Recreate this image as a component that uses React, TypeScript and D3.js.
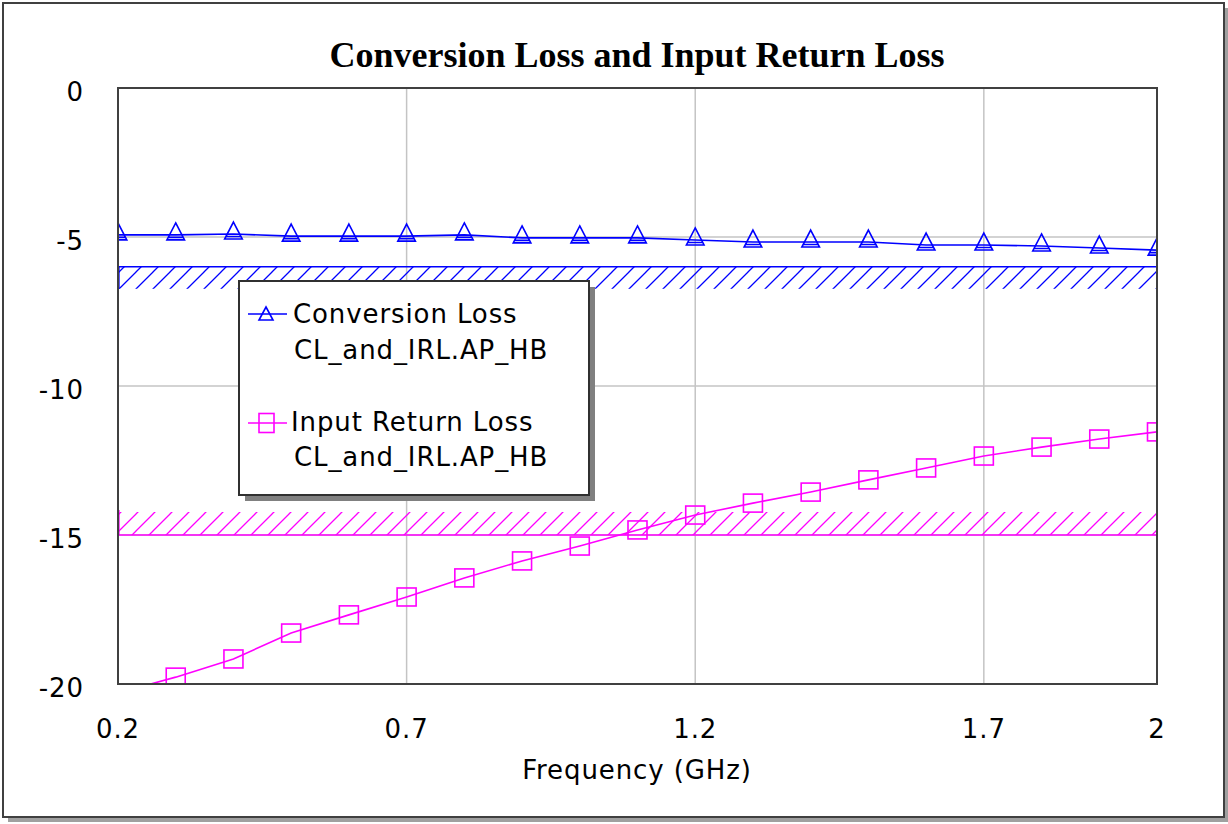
import React from "react";
import * as d3 from "d3";

const freqs = [0.2, 0.3, 0.4, 0.5, 0.6, 0.7, 0.8, 0.9, 1.0, 1.1, 1.2, 1.3, 1.4, 1.5, 1.6, 1.7, 1.8, 1.9, 2.0];
const conversionLoss = [-4.93, -4.93, -4.9, -4.97, -4.97, -4.97, -4.93, -5.03, -5.03, -5.03, -5.1, -5.17, -5.17, -5.17, -5.27, -5.27, -5.3, -5.37, -5.44];
const inputReturnLoss = [-20.3, -19.77, -19.16, -18.29, -17.68, -17.08, -16.44, -15.87, -15.37, -14.83, -14.33, -13.93, -13.56, -13.15, -12.75, -12.35, -12.05, -11.78, -11.54];
const xTicks = [0.2, 0.7, 1.2, 1.7, 2];
const xTickLabels = ["0.2", "0.7", "1.2", "1.7", "2"];
const yTicks = [0, -5, -10, -15, -20];
const yTickLabels = ["0", "-5", "-10", "-15", "-20"];
const specCL = -6;
const specIRL = -15;
const title = "Conversion Loss and Input Return Loss";
const xLabel = "Frequency (GHz)";
const legendItems = [
  { name: "Conversion Loss", source: "CL_and_IRL.AP_HB" },
  { name: "Input Return Loss", source: "CL_and_IRL.AP_HB" },
];

const BLUE = "#0000ff";
const MAGENTA = "#ff00ff";
const FONT = "'DejaVu Sans', Verdana, sans-serif";

export default function App() {
  const W = 1228, H = 824;
  const L = 118, R = 1157, T = 88, B = 684;
  const x = d3.scaleLinear().domain([0.2, 2]).range([L, R]);
  const y = d3.scaleLinear().domain([0, -20]).range([T, B]);

  const clLine = d3.line<number>().x((_, i) => x(freqs[i])).y((d) => y(d))(conversionLoss) || "";
  const irlLine = d3.line<number>().x((_, i) => x(freqs[i])).y((d) => y(d))(inputReturnLoss) || "";

  const tri = "M0,-12 L8.8,5 L-8.8,5 Z M-7.5,2.5 L7.5,2.5";
  const triLegend = "M0,-7 L7,6 L-7,6 Z";

  const ySpecCL = y(specCL);
  const ySpecIRL = y(specIRL);

  return (
    <div style={{ position: "fixed", left: 0, top: 0, width: W, height: H, background: "#fff" }}>
      <svg width={W} height={H} style={{ display: "block" }}>
        <defs>
          <clipPath id="plotClip">
            <rect x={L} y={T} width={R - L} height={B - T} />
          </clipPath>
          <pattern id="hatchBlue" patternUnits="userSpaceOnUse" width={17} height={17}>
            <path d="M-2,19 L19,-2 M-2,2 L2,-2 M15,19 L19,15" stroke={BLUE} strokeWidth={1.3} />
          </pattern>
          <pattern id="hatchMag" patternUnits="userSpaceOnUse" width={17} height={17} patternTransform="translate(0,4)">
            <path d="M-2,19 L19,-2 M-2,2 L2,-2 M15,19 L19,15" stroke={MAGENTA} strokeWidth={1.3} />
          </pattern>
        </defs>

        {/* outer frame with shadow */}
        <rect x={8} y={8} width={1221} height={814} fill="#a0a0a0" />
        <rect x={3} y={3} width={1221} height={814} fill="#fff" stroke="#404040" strokeWidth={2} />

        {/* title */}
        <text x={637} y={67} textAnchor="middle" fontFamily="'Liberation Serif', 'Times New Roman', serif" fontWeight="bold" fontSize={36} textLength={615} lengthAdjust="spacingAndGlyphs">
          {title}
        </text>

        {/* gridlines */}
        <g stroke="#c4c4c4" strokeWidth={1.5}>
          {xTicks.filter((t) => t > 0.2 && t < 2).map((t) => (
            <line key={"gx" + t} x1={x(t)} x2={x(t)} y1={T} y2={B} />
          ))}
          {yTicks.filter((t) => t < 0 && t > -20).map((t) => (
            <line key={"gy" + t} x1={L} x2={R} y1={y(t)} y2={y(t)} />
          ))}
        </g>

        {/* spec limits with hatching */}
        <g clipPath="url(#plotClip)">
          <rect x={L} y={ySpecCL} width={R - L} height={22} fill="url(#hatchBlue)" />
          <line x1={L} x2={R} y1={ySpecCL} y2={ySpecCL} stroke={BLUE} strokeWidth={1.6} />
          <line x1={L + 1} x2={L + 1} y1={ySpecCL} y2={ySpecCL + 22} stroke={BLUE} strokeWidth={1.3} />
          <rect x={L} y={ySpecIRL - 23} width={R - L} height={23} fill="url(#hatchMag)" />
          <line x1={L} x2={R} y1={ySpecIRL} y2={ySpecIRL} stroke={MAGENTA} strokeWidth={1.6} />
          <line x1={L + 1} x2={L + 1} y1={ySpecIRL - 25} y2={ySpecIRL} stroke={MAGENTA} strokeWidth={1.3} />
        </g>

        {/* data */}
        <g clipPath="url(#plotClip)">
          <path d={clLine} fill="none" stroke={BLUE} strokeWidth={1.6} />
          {conversionLoss.map((v, i) => (
            <path key={"cl" + i} d={tri} transform={`translate(${x(freqs[i])},${y(v)})`} fill="none" stroke={BLUE} strokeWidth={1.6} />
          ))}
          <path d={irlLine} fill="none" stroke={MAGENTA} strokeWidth={1.6} />
          {inputReturnLoss.map((v, i) => (
            <rect key={"irl" + i} x={x(freqs[i]) - 9.5} y={y(v) - 9} width={19} height={18} fill="none" stroke={MAGENTA} strokeWidth={1.6} />
          ))}
        </g>

        {/* plot frame */}
        <rect x={L} y={T} width={R - L} height={B - T} fill="none" stroke="#404040" strokeWidth={2} />

        {/* y tick labels */}
        <g fontFamily={FONT} fontSize={26} fill="#000" letterSpacing={0.9}>
          {yTicks.map((t, i) => (
            <text key={"yt" + t} x={84} y={y(t) + 13} textAnchor="end">{yTickLabels[i]}</text>
          ))}
          {xTicks.map((t, i) => (
            <text key={"xt" + t} x={x(t)} y={738} textAnchor="middle">{xTickLabels[i]}</text>
          ))}
          <text x={637} y={779} textAnchor="middle">{xLabel}</text>
        </g>

        {/* legend */}
        <rect x={245} y={287} width={350} height={214} fill="#808080" />
        <rect x={239} y={281} width={350} height={214} fill="#fff" stroke="#303030" strokeWidth={2} />
        <g>
          <line x1={248} x2={287} y1={314} y2={314} stroke={BLUE} strokeWidth={1.6} />
          <path d={triLegend} transform="translate(266,314)" fill="none" stroke={BLUE} strokeWidth={1.6} />
          <line x1={248} x2={287} y1={423} y2={423} stroke={MAGENTA} strokeWidth={1.6} />
          <rect x={259} y={413.5} width={15} height={19} fill="none" stroke={MAGENTA} strokeWidth={1.6} />
        </g>
        <g fontFamily={FONT} fontSize={26} fill="#000" letterSpacing={0.9}>
          <text x={293} y={323}>{legendItems[0].name}</text>
          <text x={294} y={359}>{legendItems[0].source}</text>
          <text x={291} y={431}>{legendItems[1].name}</text>
          <text x={294} y={466}>{legendItems[1].source}</text>
        </g>
      </svg>
    </div>
  );
}
